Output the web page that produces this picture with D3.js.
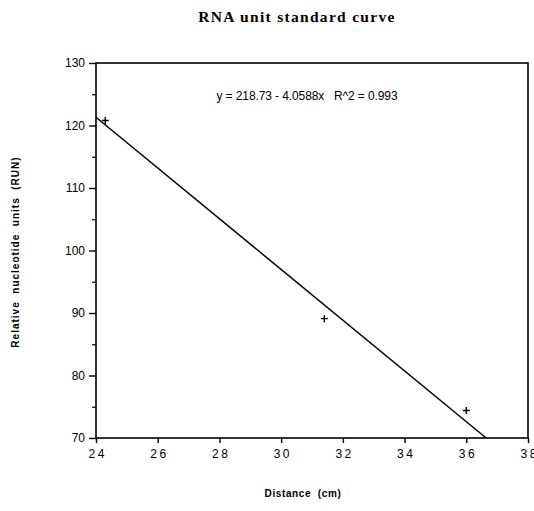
<!DOCTYPE html>
<html>
<head>
<meta charset="utf-8">
<script src="https://cdn.jsdelivr.net/npm/d3@7"></script>
<style>
  html, body { margin: 0; padding: 0; background: #fff; }
  svg { display: block; }
</style>
</head>
<body>
<svg id="chart" width="534" height="511"></svg>
<script>
// ---- data ----
const distance = [24.3, 31.4, 36.0];
const run = [120.8, 89.1, 74.4];
const fitIntercept = 218.73;
const fitSlope = -4.0588;
const xTicks = [24, 26, 28, 30, 32, 34, 36, 38];
const yTicks = [70, 80, 90, 100, 110, 120, 130];
const yMinorTicks = [75, 85, 95, 105, 115, 125];
const titleText = "RNA unit standard curve";
const equationText = "y = 218.73 - 4.0588x   R^2 = 0.993";
const xLabel = "Distance  (cm)";
const yLabel = "Relative  nucleotide  units  (RUN)";

// ---- layout ----
const svg = d3.select("#chart");
const L = 96, R = 528, T = 63, B = 438;
const x = d3.scaleLinear().domain([24, 38]).range([L, R]);
const y = d3.scaleLinear().domain([70, 130]).range([B, T]);
const sans = "'Liberation Sans', Arial, Helvetica, sans-serif";

// title
svg.append("text")
  .attr("x", 297).attr("y", 22)
  .attr("text-anchor", "middle")
  .attr("font-family", "'Liberation Serif', 'Times New Roman', serif")
  .attr("font-weight", "bold")
  .attr("font-size", 15.5)
  .attr("letter-spacing", 1.3)
  .style("white-space", "pre")
  .text(titleText);

// frame
svg.append("rect")
  .attr("x", L).attr("y", T).attr("width", R - L).attr("height", B - T)
  .attr("fill", "none").attr("stroke", "#000").attr("stroke-width", 1.6);

// y axis
const yAxis = d3.axisLeft(y).tickValues(yTicks).tickSize(7).tickPadding(4).tickFormat(d3.format("d"));
const gy = svg.append("g").attr("transform", `translate(${L},0)`).call(yAxis);
gy.select(".domain").remove();
gy.selectAll(".tick line").attr("stroke", "#000").attr("stroke-width", 1.4);
gy.selectAll(".tick text").attr("font-family", sans).attr("font-size", 12).attr("fill", "#000");
const yMinor = d3.axisLeft(y).tickValues(yMinorTicks).tickSize(4).tickFormat("");
const gym = svg.append("g").attr("transform", `translate(${L},0)`).call(yMinor);
gym.select(".domain").remove();
gym.selectAll(".tick line").attr("stroke", "#000").attr("stroke-width", 1.2);

// x axis
const xAxis = d3.axisBottom(x).tickValues(xTicks).tickSize(5).tickPadding(6).tickFormat(d3.format("d"));
const gx = svg.append("g").attr("transform", `translate(0,${B})`).call(xAxis);
gx.select(".domain").remove();
gx.selectAll(".tick line").attr("stroke", "#000").attr("stroke-width", 1.4);
gx.selectAll(".tick text").attr("font-family", sans).attr("font-size", 12)
  .attr("letter-spacing", 2.5).attr("fill", "#000").attr("dx", 1.2);

// regression line (clipped to axis range)
const yAt = v => fitIntercept + fitSlope * v;
const xEnd = (70 - fitIntercept) / fitSlope;
svg.append("line")
  .attr("x1", x(24)).attr("y1", y(yAt(24)))
  .attr("x2", x(xEnd)).attr("y2", y(70))
  .attr("stroke", "#000").attr("stroke-width", 1.5);

// points as "+"
const pts = svg.append("g");
distance.forEach((d, i) => {
  const px = x(d), py = y(run[i]);
  pts.append("path")
    .attr("d", `M${px - 3.5},${py}H${px + 3.5}M${px},${py - 3.5}V${py + 3.5}`)
    .attr("stroke", "#000").attr("stroke-width", 1.4);
});

// equation
svg.append("text")
  .attr("x", 307).attr("y", 100)
  .attr("text-anchor", "middle")
  .attr("font-family", sans)
  .attr("font-size", 12)
  .attr("letter-spacing", -0.1)
  .style("white-space", "pre")
  .text(equationText);

// x label
svg.append("text")
  .attr("x", 303).attr("y", 497)
  .attr("text-anchor", "middle")
  .attr("font-family", sans).attr("font-weight", "bold")
  .attr("font-size", 10).attr("letter-spacing", 0.6)
  .style("white-space", "pre")
  .text(xLabel);

// y label
svg.append("text")
  .attr("transform", `translate(19,252) rotate(-90)`)
  .attr("text-anchor", "middle")
  .attr("font-family", sans).attr("font-weight", "bold")
  .attr("font-size", 10).attr("letter-spacing", 1)
  .style("white-space", "pre")
  .text(yLabel);
</script>
</body>
</html>
